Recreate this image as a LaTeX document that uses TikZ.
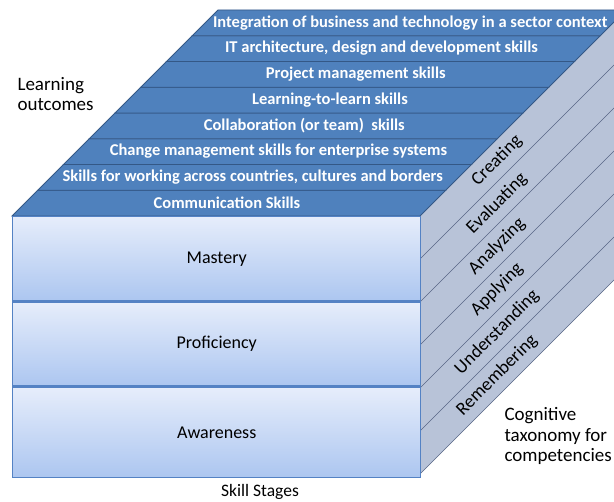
\documentclass[tikz,border=0pt]{standalone}
\usepackage{fontspec}
\setmainfont{Carlito}
\definecolor{BandBlue}{RGB}{79,129,189}
\definecolor{BandLine}{RGB}{52,88,134}
\definecolor{FaceTop}{RGB}{230,237,251}
\definecolor{FaceBot}{RGB}{172,198,240}
\definecolor{FaceEdge}{RGB}{84,130,196}
\definecolor{SideGrey}{RGB}{184,195,216}
\definecolor{SideLine}{RGB}{88,102,134}

\begin{document}
\begin{tikzpicture}[x=1pt,y=-1pt,
    bandtext/.style={text=white,font=\fontsize{16.5}{18}\selectfont\bfseries},
    stagebox/.style={draw=FaceEdge,line width=1.4pt,top color=FaceTop,bottom color=FaceBot,
                     minimum width=408pt,inner sep=0pt,font=\fontsize{18}{20}\selectfont},
    levellabel/.style={rotate=45,font=\fontsize{18.5}{20}\selectfont},
    sidelabel/.style={align=left,font=\fontsize{19}{20.5}\selectfont}]
    \useasboundingbox (0,0) rectangle (614,502);
    \begin{scope}
      \clip (0,0) rectangle (614,502);
      \fill[SideGrey] (420,216) -- (626,10) -- (626,268) -- (420,474) -- cycle;
      \foreach \k in {1,...,5}
        \draw[SideLine,thin] (420,216+43*\k) -- ++(206,-206);
      \draw[SideLine,thin] (420,474) -- ++(206,-206);
      \foreach \k/\txt/\dx in {0/Communication Skills/0,
                           1/{Skills for working across countries, cultures and borders}/0,
                           2/Change management skills for enterprise systems/0,
                           3/Collaboration (or team)\ \ skills/0,
                           4/Learning-to-learn skills/0,
                           5/Project management skills/0,
                           6/{IT architecture, design and development skills}/0,
                           7/Integration of business and technology in a sector context/3} {
        \filldraw[fill=BandBlue,draw=BandLine,line width=0.8pt]
          (12+25.75*\k,216-25.75*\k) -- ++(408,0) -- ++(25.75,-25.75) -- ++(-408,0) -- cycle;
        \node[bandtext] (lo\k) at (227+25.75*\k+\dx,203-25.75*\k) {\txt};
      }
    \end{scope}
    \node[stagebox,minimum height=84pt,anchor=north west] (mastery) at (12,216) {Mastery};
    \node[stagebox,minimum height=84pt,anchor=north] (proficiency) at (mastery.south) {Proficiency};
    \node[stagebox,minimum height=90pt,anchor=north] (awareness) at (proficiency.south) {Awareness};
    \foreach \k/\txt in {0/Creating,1/Evaluating,2/Analyzing,3/Applying,4/Understanding,5/Remembering}
      \node[levellabel] (lvl\k) at (497,160.5+43*\k) {\txt};
    \node[sidelabel,anchor=west] (outcomes) at (14,94) {Learning\\outcomes};
    \node[sidelabel,anchor=north west] (taxonomy) at (501,404) {Cognitive\\taxonomy for\\competencies};
    \node[font=\fontsize{17.5}{19}\selectfont] (stages) at (260,492) {Skill Stages};
\end{tikzpicture}
\end{document}
